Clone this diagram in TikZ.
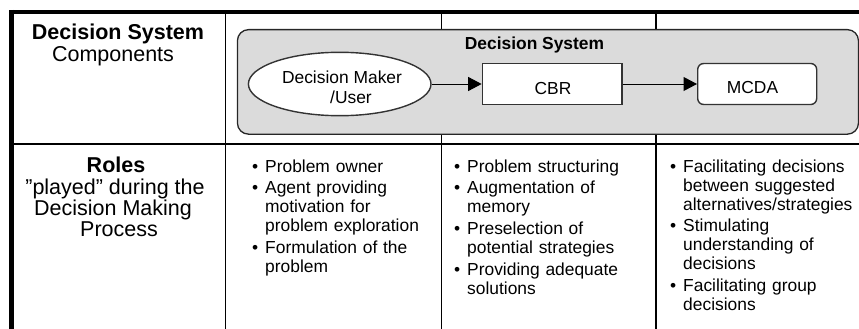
\documentclass[tikz,border=0pt]{standalone}
\usepackage{fontspec}
\setmainfont{Liberation Sans}
\usetikzlibrary{arrows.meta,shapes.geometric}
\newcommand{\bul}{\leavevmode\llap{•\hspace{7pt}}}
\begin{document}
\begin{tikzpicture}[x=1pt,y=-1pt,
  body/.style={font=\fontsize{17.4}{19}\selectfont, inner sep=0pt},
  itemtxt/.style={body, anchor=base west, text width=200pt, align=left},
  lefttxt/.style={font=\fontsize{21.5}{24}\selectfont, inner sep=0pt, anchor=base},
  thickrule/.style={line width=4.4pt},
  thinrule/.style={line width=1.6pt},
  midrule/.style={line width=2pt},
  sysbox/.style={draw=black!85, fill=black!14, line width=1.3pt, rounded corners=11pt, inner sep=0pt},
  compbox/.style={draw=black!80, fill=white, line width=1.4pt, inner sep=0pt},
  flow/.style={line width=1pt, -{Triangle[length=13.5pt,width=14pt]}},
]
\useasboundingbox (0,0) rectangle (859,329);
% grid
\coordinate (tlA) at (9.3,12);
\coordinate (tlB) at (859,12);
\coordinate (llA) at (11.5,10);
\coordinate (llB) at (11.5,329);
\coordinate (c1A) at (225.3,13);
\coordinate (c1B) at (225.3,329);
\coordinate (c2A) at (441.3,13);
\coordinate (c2B) at (441.3,329);
\coordinate (c3A) at (655.8,13);
\coordinate (c3B) at (655.8,329);
\coordinate (rsA) at (13,143.5);
\coordinate (rsB) at (859,143.5);
\draw[thinrule] (c1A) -- (c1B);
\draw[thinrule] (c2A) -- (c2B);
\draw[thinrule] (c3A) -- (c3B);
\draw[midrule] (rsA) -- (rsB);
\draw[thickrule] (tlA) -- (tlB);
\draw[thickrule] (llA) -- (llB);
% decision system box
\node[sysbox, anchor=north west, minimum width=621pt, minimum height=104.5pt] (sys) at (236.8,29) {};
\node[body, anchor=base, font=\fontsize{17.4}{19}\selectfont\bfseries] (systitle) at (534.5,49) {Decision System};
\node[compbox, ellipse, minimum width=182.6pt, minimum height=63.4pt] (dm) at (339.7,84) {};
\node[body, anchor=base] (dm1) at (342,83) {Decision Maker};
\node[body, anchor=base] (dm2) at (351,103) {/User};
\node[compbox, minimum width=139.7pt, minimum height=41pt] (cbr) at (552.2,84) {};
\node[body, anchor=base] (cbrtxt) at (553,94) {CBR};
\node[compbox, rounded corners=6pt, minimum width=119pt, minimum height=41pt] (mcda) at (757.2,84) {};
\node[body, anchor=base] (mcdatxt) at (752.5,93) {MCDA};
\draw[flow] (dm.east) -- (cbr.west);
\draw[flow] (cbr.east) -- (mcda.west);
% left column
\node[lefttxt, font=\fontsize{21.5}{24}\selectfont\bfseries] (h1) at (118,40) {Decision System};
\node[lefttxt] (h2) at (113,62) {Components};
\node[lefttxt, font=\fontsize{21.5}{24}\selectfont\bfseries] (r1) at (116,172) {Roles};
\node[lefttxt] (r2) at (115,194) {”played” during the};
\node[lefttxt] (r3) at (113,215) {Decision Making};
\node[lefttxt] (r4) at (119,236.5) {Process};
% column 2
\node[itemtxt] (a1) at (265,172) {\bul Problem owner};
\node[itemtxt] (a2) at (265,193.7) {\bul Agent providing\\motivation for\\problem exploration};
\node[itemtxt] (a3) at (265,253.4) {\bul Formulation of the\\problem};
% column 3
\node[itemtxt] (b1) at (467,172) {\bul Problem structuring};
\node[itemtxt] (b2) at (467,193.7) {\bul Augmentation of\\memory};
\node[itemtxt] (b3) at (467,234.4) {\bul Preselection of\\potential strategies};
\node[itemtxt] (b4) at (467,275.1) {\bul Providing adequate\\solutions};
% column 4
\node[itemtxt] (d1) at (683,172) {\bul Facilitating decisions\\between suggested\\alternatives/strategies};
\node[itemtxt] (d2) at (683,231.7) {\bul Stimulating\\understanding of\\decisions};
\node[itemtxt] (d3) at (683,291.4) {\bul Facilitating group\\decisions};
\end{tikzpicture}
\end{document}
